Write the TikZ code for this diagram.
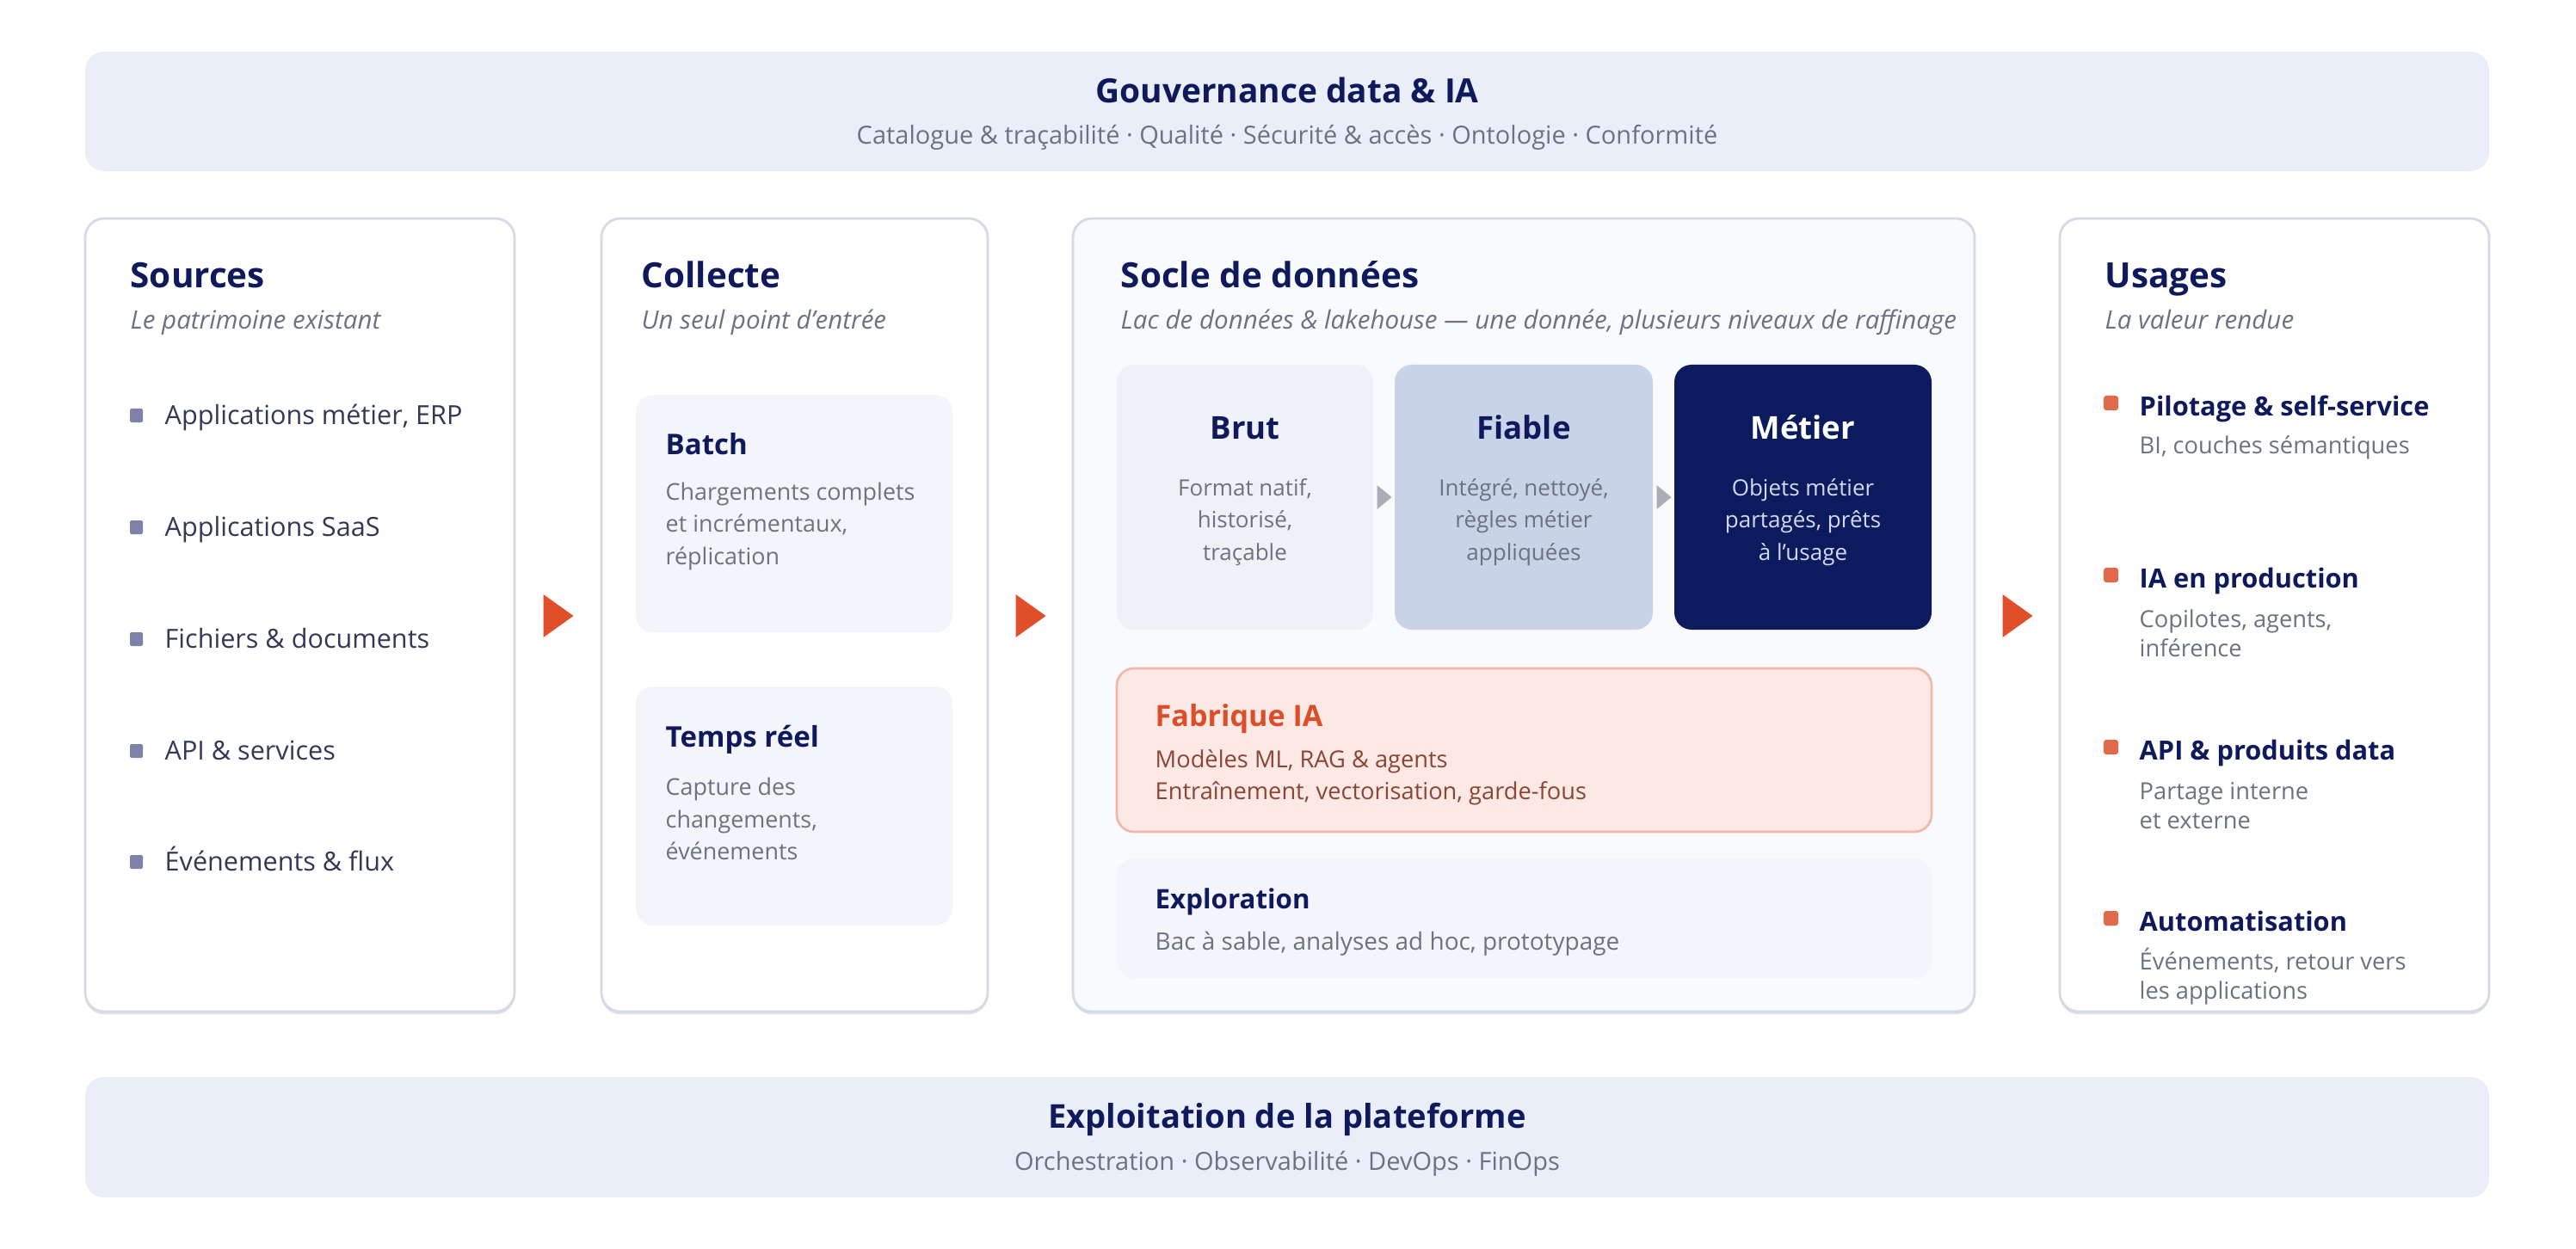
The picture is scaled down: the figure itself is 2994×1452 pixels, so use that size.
\documentclass[tikz,border=0pt]{standalone}
\usepackage{fontspec}
\setmainfont{Open Sans}
\usetikzlibrary{calc,fit,shadows}
\definecolor{navy}{HTML}{0E1A5C}
\definecolor{slatetext}{HTML}{333955}
\definecolor{graytext}{HTML}{6B7280}
\definecolor{bulletslate}{HTML}{7D82A8}
\definecolor{accent}{HTML}{E04E2A}
\definecolor{bulletorange}{HTML}{E2694A}
\definecolor{govfill}{HTML}{EAEEF9}
\definecolor{bordc}{HTML}{D6DAE6}
\definecolor{shadowc}{HTML}{DEE1EA}
\definecolor{tilebg}{HTML}{F3F5FA}
\definecolor{brutfill}{HTML}{EFF1F6}
\definecolor{fiablefill}{HTML}{C9D3E8}
\definecolor{metierfill}{HTML}{0C1A5E}
\definecolor{metiertext}{HTML}{D3D9F2}
\definecolor{fabfill}{HTML}{FCE9E5}
\definecolor{fabborder}{HTML}{F2B9AA}
\definecolor{fabtext}{HTML}{8A4535}
\definecolor{fabtitle}{HTML}{DD4E28}
\definecolor{soclefill}{HTML}{F9FAFD}
\definecolor{greyarrow}{HTML}{A9ADB8}
\tikzset{
  band/.style={fill=govfill, draw=none, rounded corners=22*0.01cm, inner sep=0pt},
  colbox/.style={fill=white, draw=bordc, line width=0.8pt, rounded corners=22*0.01cm, inner sep=0pt,
     drop shadow={shadow xshift=0pt, shadow yshift=-0.9pt, fill=shadowc, opacity=1}},
  tile/.style={fill=tilebg, draw=none, rounded corners=20*0.01cm, inner sep=0pt},
  bandtitle/.style={inner sep=0pt, text=navy, text height=7.9pt, text depth=0pt, font=\fontsize{11.05}{13}\selectfont\bfseries},
  coltitle/.style={inner sep=0pt, anchor=west, text=navy, text height=8.2pt, text depth=0pt, font=\fontsize{11.5}{13}\selectfont\bfseries},
  colsub/.style={inner sep=0pt, anchor=west, text=graytext, text height=5.9pt, text depth=0pt, font=\fontsize{8.4}{10}\selectfont\itshape},
  bandsub/.style={inner sep=0pt, text=graytext, text height=5.9pt, text depth=0pt, font=\fontsize{8.25}{10}\selectfont},
  srcitem/.style={inner sep=0pt, anchor=west, text=slatetext, text height=6.2pt, text depth=0pt, font=\fontsize{8.7}{10}\selectfont},
  sqslate/.style={fill=bulletslate, rounded corners=2*0.01cm},
  sqorange/.style={fill=bulletorange, rounded corners=3*0.01cm},
  tiletitle/.style={inner sep=0pt, anchor=west, text=navy, text height=6.7pt, text depth=0pt, font=\fontsize{9.4}{11}\selectfont\bfseries},
  tiledesc/.style={inner sep=0pt, anchor=west, align=left, text=graytext, font=\fontsize{7.65}{10.6}\selectfont},
  tiertitle/.style={inner sep=0pt, text=navy, text height=7.4pt, text depth=0pt, font=\fontsize{10.4}{12}\selectfont\bfseries},
  tierdesc/.style={inner sep=0pt, align=center, text=graytext, font=\fontsize{7.4}{10.7}\selectfont},
  usetitle/.style={inner sep=0pt, anchor=west, text=navy, text height=6.25pt, text depth=0pt, font=\fontsize{8.75}{10}\selectfont\bfseries},
  usesub/.style={inner sep=0pt, anchor=west, align=left, text=graytext, font=\fontsize{7.75}{9.7}\selectfont},
}
\begin{document}
\begin{tikzpicture}[x=0.01cm,y=-0.01cm]
\useasboundingbox[fill=white] (0,0) rectangle (2994,1452);

% ---------- Governance band ----------
\node[band, fit={(99,60) (2893,199)}] (gov) {};
\node[bandtitle] (govt) at (1496,106) {Gouvernance data \& IA};
\node[bandsub] (govs) at (1496,157) {Catalogue \& traçabilité · Qualité · Sécurité \& accès · Ontologie · Conformité};

% ---------- Exploitation band ----------
\node[band, fit={(99,1252) (2893,1392)}] (ops) {};
\node[bandtitle, text height=7.75pt, font=\fontsize{10.85}{12}\selectfont\bfseries] (opst) at (1496,1298) {Exploitation de la plateforme};
\node[bandsub] (opss) at (1496,1350) {Orchestration · Observabilité · DevOps · FinOps};

% ---------- Columns ----------
\node[colbox, fit={(99,254) (598,1176)}] (src) {};
\node[colbox, fit={(699,254) (1148,1176)}] (col) {};
\node[colbox, fill=soclefill, fit={(1247,254) (2295,1176)}] (soc) {};
\node[colbox, fit={(2394,254) (2893,1176)}] (use) {};

% ---------- Sources ----------
\node[coltitle] (srct) at (151,320) {Sources};
\node[colsub] (srcs) at (151,372) {Le patrimoine existant};
\foreach \yy/\lab/\nm in {483/{Applications métier, ERP}/s1, 613/{Applications SaaS}/s2, 743/{Fichiers \& documents}/s3, 873/{API \& services}/s4, 1002/{Événements \& flux}/s5}{
  \fill[sqslate] (151,\yy-8) rectangle (166,\yy+8);
  \node[srcitem] (\nm) at (191,\yy) {\lab};
}

% ---------- Collecte ----------
\node[coltitle] (colt) at (745,320) {Collecte};
\node[colsub] (cols) at (745,372) {Un seul point d’entrée};
\node[tile, fit={(739,459) (1107,735)}] (batch) {};
\node[tiletitle] (batcht) at (773,517) {Batch};
\node[tiledesc] (batchd) at (773,612) {Chargements complets\\et incrémentaux,\\réplication};
\node[tile, fit={(739,798) (1107,1076)}] (rt) {};
\node[tiletitle] (rtt) at (773,857) {Temps réel};
\node[tiledesc] (rtd) at (773,952) {Capture des\\changements,\\événements};

% ---------- Socle ----------
\node[coltitle] (soct) at (1302,320) {Socle de données};
\node[colsub] (socs) at (1302,372) {Lac de données \& lakehouse — une donnée, plusieurs niveaux de raffinage};
\node[tile, fill=brutfill, fit={(1298,424) (1596,732)}] (brut) {};
\node[tile, fill=fiablefill, fit={(1621,424) (1921,732)}] (fiable) {};
\node[tile, fill=metierfill, fit={(1946,424) (2245,732)}] (metier) {};
\node[tiertitle] (brutt) at (1447,497) {Brut};
\node[tierdesc] (brutd) at (1447,607) {Format natif,\\historisé,\\traçable};
\node[tiertitle] (fiablet) at (1771,497) {Fiable};
\node[tierdesc] (fiabled) at (1771,607) {Intégré, nettoyé,\\règles métier\\appliquées};
\node[tiertitle, text=white] (metiert) at (2095.5,497) {Métier};
\node[tierdesc, text=metiertext] (metierd) at (2095.5,607) {Objets métier\\partagés, prêts\\à l’usage};
% grey step arrows
\coordinate (g1) at ($(brut.east)!0.5!(fiable.west)$);
\coordinate (g2) at ($(fiable.east)!0.5!(metier.west)$);
\foreach \g in {g1,g2}{
  \fill[greyarrow] ($(\g)+(-8,568-578)$) ++(0,-4) -- ++(17,14) -- ++(-17,14) -- cycle;
}
\node[tile, fill=fabfill, draw=fabborder, line width=0.8pt, fit={(1298,777) (2245,967)}] (fab) {};
\node[tiletitle, text=fabtitle, text height=6.9pt, font=\fontsize{9.7}{11}\selectfont\bfseries] (fabt) at (1342,832) {Fabrique IA};
\node[tiledesc, text=fabtext, font=\fontsize{7.75}{10.5}\selectfont] (fabd) at (1342,903.5) {Modèles ML, RAG \& agents\\Entraînement, vectorisation, garde-fous};
\node[tile, fill=tilebg, fit={(1298,998) (2245,1137)}] (expl) {};
\node[tiletitle, text height=6.35pt, font=\fontsize{8.9}{11}\selectfont\bfseries] (explt) at (1342,1045) {Exploration};
\node[tiledesc, text height=5.65pt, text depth=0pt, font=\fontsize{7.95}{10}\selectfont] (expld) at (1342,1095) {Bac à sable, analyses ad hoc, prototypage};

% ---------- Usages ----------
\node[coltitle] (uset) at (2446,320) {Usages};
\node[colsub] (uses) at (2446,372) {La valeur rendue};
\foreach \yy/\ys/\tt/\ss/\nm in {
  473/520/{Pilotage \& self-service}/{BI, couches sémantiques}/u1,
  673/736.5/{IA en production}/{Copilotes, agents,\\inférence}/u2,
  873/936.5/{API \& produits data}/{Partage interne\\et externe}/u3,
  1072/1135.5/{Automatisation}/{Événements, retour vers\\les applications}/u4}{
  \fill[sqorange] (2445,\yy-13) rectangle (2462,\yy+4);
  \node[usetitle] (\nm t) at (2486,\yy) {\tt};
  \node[usesub] (\nm s) at (2486,\ys) {\ss};
}

% ---------- Flow arrows between columns ----------
\coordinate (a1) at ($(src.east)!0.5!(col.west)$);
\coordinate (a2) at ($(col.east)!0.5!(soc.west)$);
\coordinate (a3) at ($(soc.east)!0.5!(use.west)$);
\foreach \a in {a1,a2,a3}{
  \fill[accent] ($(\a|-0,716)+(-17,-25)$) -- ++(35,25) -- ++(-35,25) -- cycle;
}
\end{tikzpicture}
\end{document}
